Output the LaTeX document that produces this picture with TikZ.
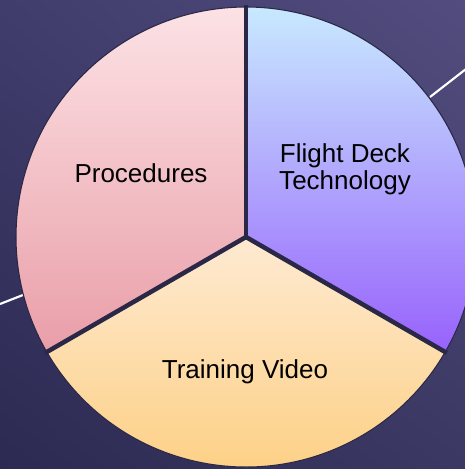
\documentclass[tikz,border=0pt]{standalone}
\usepackage{fontspec}
\setmainfont{Liberation Sans}
\usetikzlibrary{shadings}
\definecolor{bgtl}{HTML}{403C6C}
\definecolor{bgtr}{HTML}{524D7E}
\definecolor{bgbl}{HTML}{2C2A52}
\definecolor{bgbr}{HTML}{3B3863}
\definecolor{piegap}{HTML}{2A2846}
\definecolor{procTop}{HTML}{FCE2E5}
\definecolor{procBot}{HTML}{E99EA8}
\definecolor{deckTop}{HTML}{C8E9FE}
\definecolor{deckBot}{HTML}{9862FC}
\definecolor{videoTop}{HTML}{FEEAD2}
\definecolor{videoBot}{HTML}{FDCD7C}

\begin{document}
\begin{tikzpicture}[x=0.75pt,y=0.75pt,
		slice/.style={draw=piegap,line width=0.8pt},
		cut/.style={draw=piegap,line width=3.4pt},
		label/.style={font=\fontsize{19.5}{20}\selectfont,text=black,align=center}]
		\useasboundingbox (0,0) rectangle (465,469);
		\clip (0,0) rectangle (465,469);
		\shade[upper left=bgtl,upper right=bgtr,lower left=bgbl,lower right=bgbr] (0,0) rectangle (465,469);
		
		% streaks behind the pie
		\coordinate (sl1) at (0,165);
		\coordinate (sl2) at (23,174);
		\coordinate (sr1) at (430,372);
		\coordinate (sr2) at (466,400);
		\draw[white,line width=1.6pt] (sl1) -- (sl2);
		\draw[white,line width=1.6pt] (sr1) -- (sr2);
		
		% the three slices
		\coordinate (c) at (246,232);
		\shadedraw[slice,top color=procTop,bottom color=procBot] (c) -- ++(90:230) arc[start angle=90,end angle=210,radius=230] -- cycle;
		\shadedraw[slice,top color=deckTop,bottom color=deckBot] (c) -- ++(-30:230) arc[start angle=-30,end angle=90,radius=230] -- cycle;
		\shadedraw[slice,top color=videoTop,bottom color=videoBot] (c) -- ++(210:230) arc[start angle=210,end angle=330,radius=230] -- cycle;
		
		% gaps between the slices
		\draw[cut] (c) -- ++(90:232);
		\draw[cut] (c) -- ++(210:232);
		\draw[cut] (c) -- ++(330:232);
		
		\node[label] (proc) at (141,296) {Procedures};
		\node[label] (deck) at (345,300) {Flight Deck\\Technology};
		\node[label] (video) at (245,97) {Training Video};
		\end{tikzpicture}
\end{document}
